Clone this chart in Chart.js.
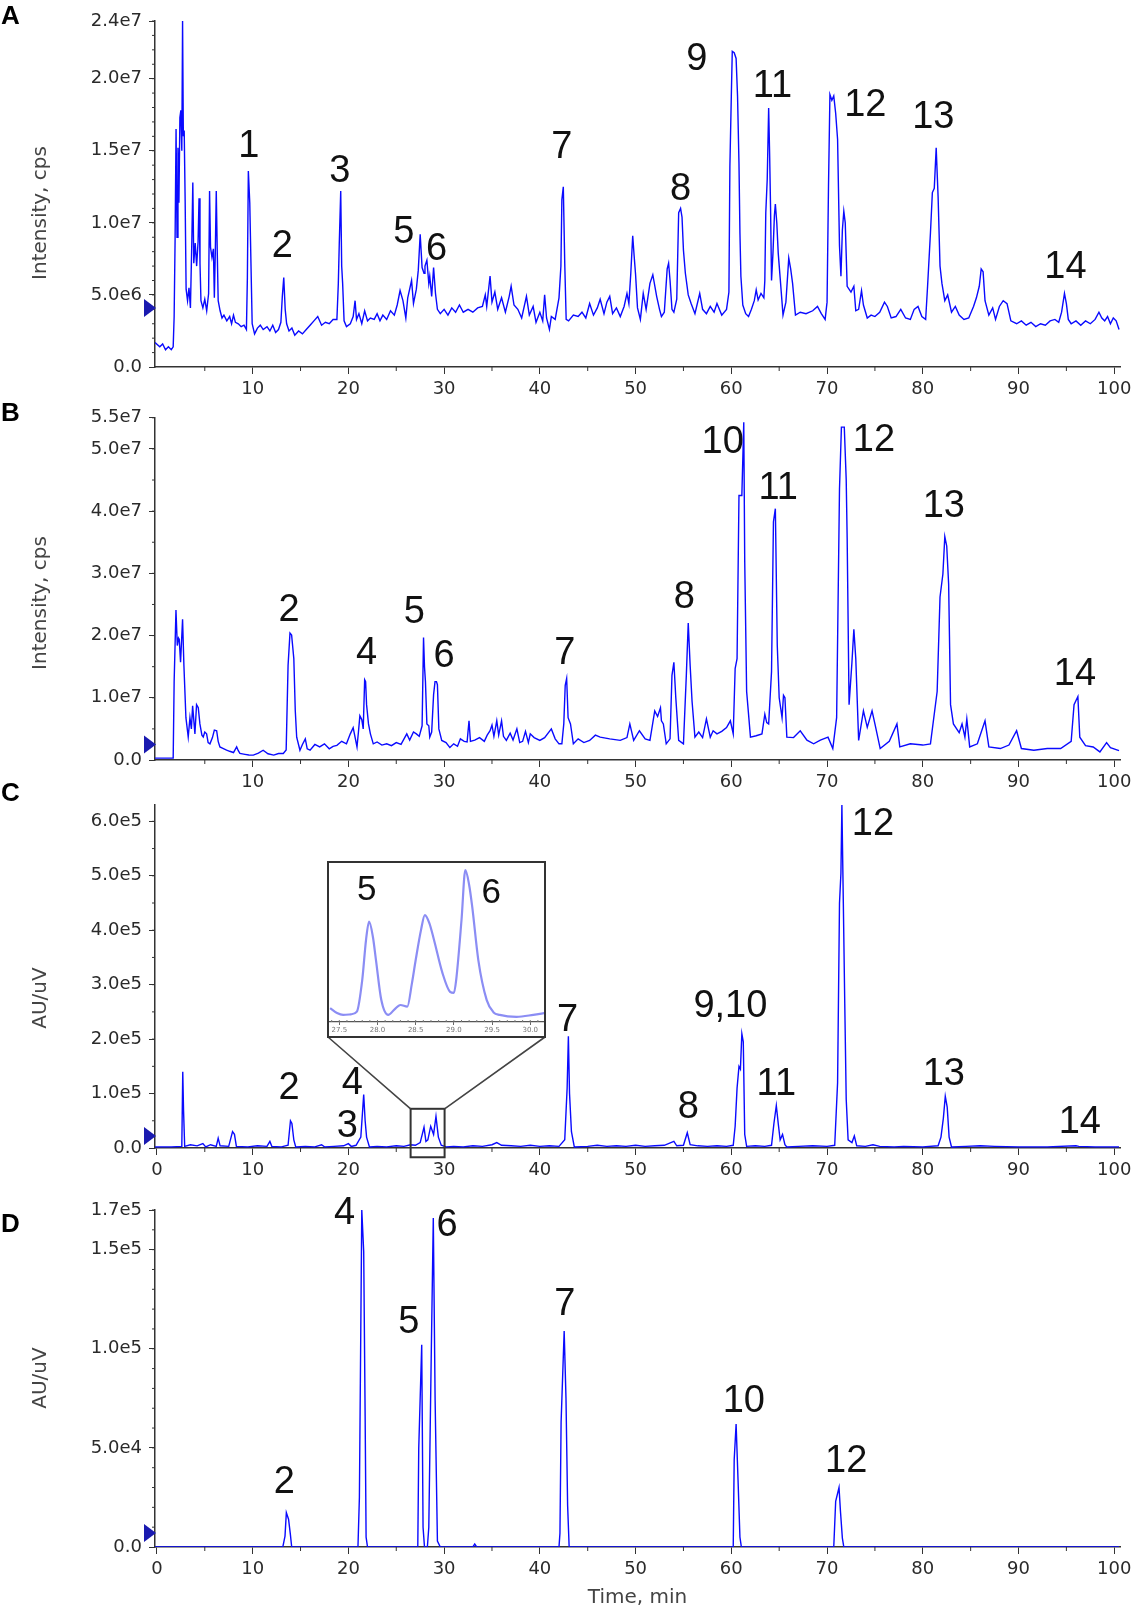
<!DOCTYPE html>
<html>
<head>
<meta charset="utf-8">
<title>Chromatograms A-D</title>
<script src="https://cdn.jsdelivr.net/npm/chart.js@4.4.1/dist/chart.umd.min.js"></script>
<style>
  body { margin: 0; background: #fff; }
  #page { position: relative; width: 1138px; height: 1612px; overflow: hidden; }
  .panel { position: absolute; left: 0; width: 1138px; }
  #insetBox { position: absolute; left: 327px; top: 861px; width: 219px; height: 177px;
              box-sizing: border-box; border: 2px solid #333; background: #fff; }
</style>
</head>
<body>
<div id="page">
  <div class="panel" style="top:0;height:400px"><canvas id="chartA"></canvas></div>
  <div class="panel" style="top:400px;height:392px"><canvas id="chartB"></canvas></div>
  <div class="panel" style="top:776px;height:404px"><canvas id="chartC"></canvas></div>
  <div class="panel" style="top:1180px;height:432px"><canvas id="chartD"></canvas></div>
  <div id="insetBox"><canvas id="chartInset"></canvas></div>
</div>
<script>
// time axis (min)
const timeTicksFull = [0, 10, 20, 30, 40, 50, 60, 70, 80, 90, 100];
const timeTicksNoZero = [10, 20, 30, 40, 50, 60, 70, 80, 90, 100];

// y ticks per panel
const yTicksA = [0, 5e6, 1e7, 1.5e7, 2e7, 2.4e7];
const yLabelsA = ["0.0", "5.0e6", "1.0e7", "1.5e7", "2.0e7", "2.4e7"];
const yTicksB = [0, 1e7, 2e7, 3e7, 4e7, 5e7, 5.5e7];
const yLabelsB = ["0.0", "1.0e7", "2.0e7", "3.0e7", "4.0e7", "5.0e7", "5.5e7"];
const yTicksC = [0, 1e5, 2e5, 3e5, 4e5, 5e5, 6e5];
const yLabelsC = ["0.0", "1.0e5", "2.0e5", "3.0e5", "4.0e5", "5.0e5", "6.0e5"];
const yTicksD = [0, 5e4, 1e5, 1.5e5, 1.7e5];
const yLabelsD = ["0.0", "5.0e4", "1.0e5", "1.5e5", "1.7e5"];

// A: TIC, intensity in 1e6 cps
const traceA = [
  [-0.2,1.7],[0.3,1.4],[0.6,1.6],[0.9,1.2],[1.2,1.4],[1.5,1.2],[1.7,1.4],
  [1.8,3.5],[1.9,8.9],[2.0,16.5],[2.1,9.0],[2.2,15.2],[2.3,11.4],[2.4,17.3],[2.5,17.8],[2.6,15.0],
  [2.68,24.0],[2.76,16.0],[2.85,16.4],[2.95,11.5],[3.05,5.4],[3.2,4.6],[3.35,5.5],[3.5,4.1],[3.65,8.8],
  [3.75,12.8],[3.85,7.2],[4.0,8.6],[4.15,7.0],[4.3,8.7],[4.4,11.7],[4.5,7.2],[4.6,4.6],[4.8,4.1],
  [5.0,4.7],[5.2,3.9],[5.4,5.1],[5.5,12.2],[5.6,8.3],[5.75,7.6],[5.9,8.2],[6.0,4.8],[6.1,8.0],[6.2,12.2],
  [6.3,8.1],[6.4,4.6],[6.6,3.9],[6.8,3.4],[7.0,3.6],[7.3,3.2],[7.6,3.5],[7.8,3.0],[8.0,3.6],[8.2,3.1],
  [8.5,3.0],[8.8,2.8],[9.1,2.9],[9.35,2.6],[9.45,6.2],[9.55,13.6],[9.7,11.4],[9.85,6.3],[9.95,3.0],
  [10.2,2.3],[10.5,2.7],[10.8,2.9],[11.1,2.6],[11.5,2.8],[11.8,2.5],[12.1,2.9],[12.4,2.4],[12.7,2.6],
  [12.95,3.1],[13.1,4.9],[13.25,6.2],[13.4,4.0],[13.55,3.0],[13.8,2.5],[14.1,2.7],[14.4,2.2],[14.8,2.5],
  [15.2,2.3],[15.6,2.6],[16.0,2.9],[16.4,3.2],[16.8,3.5],[17.2,2.9],[17.6,3.1],[18.0,3.0],[18.4,3.3],
  [18.8,3.3],[18.95,5.8],[19.05,8.6],[19.2,12.2],[19.3,7.0],[19.4,5.8],[19.55,3.2],[19.8,2.8],[20.2,3.0],
  [20.5,3.5],[20.7,4.6],[20.85,3.3],[21.1,3.7],[21.4,3.0],[21.7,3.9],[22.0,3.2],[22.3,3.4],[22.7,3.3],
  [23.0,3.7],[23.3,3.2],[23.6,3.6],[24.0,3.3],[24.4,3.9],[24.8,3.6],[25.1,4.3],[25.4,5.3],[25.7,4.6],
  [26.0,3.4],[26.2,4.8],[26.6,6.0],[26.8,4.4],[27.1,5.4],[27.3,6.7],[27.5,9.2],[27.7,6.9],[27.9,6.5],
  [28.0,7.0],[28.2,7.4],[28.4,5.8],[28.5,6.3],[28.7,4.9],[28.9,6.9],[29.1,5.1],[29.3,4.0],[29.6,3.7],
  [30.0,4.0],[30.4,3.6],[30.8,4.1],[31.2,3.8],[31.6,4.3],[32.0,3.8],[32.5,4.0],[33.0,3.8],[33.5,4.1],
  [34.0,4.2],[34.3,5.0],[34.45,4.2],[34.8,6.3],[35.0,4.5],[35.3,5.2],[35.6,4.0],[36.0,4.8],[36.4,3.8],
  [36.8,4.9],[37.0,5.6],[37.3,4.3],[37.7,4.0],[38.1,3.4],[38.6,4.9],[38.9,3.6],[39.3,4.2],[39.6,3.1],
  [40.0,3.8],[40.3,3.2],[40.5,5.0],[40.7,3.4],[41.0,2.6],[41.2,3.5],[41.6,3.3],[42.0,4.8],[42.2,7.0],
  [42.3,11.6],[42.45,12.5],[42.6,7.2],[42.75,3.3],[43.0,3.2],[43.5,3.6],[44.0,3.5],[44.4,3.8],[44.8,3.4],
  [45.2,4.4],[45.6,3.6],[46.0,4.1],[46.3,4.7],[46.7,3.7],[47.0,4.5],[47.3,4.9],[47.6,3.7],[48.0,4.1],
  [48.4,3.5],[48.8,4.2],[49.1,5.1],[49.3,4.4],[49.5,6.5],[49.7,9.1],[49.85,7.7],[50.0,6.4],[50.2,4.1],
  [50.5,3.3],[50.8,5.1],[51.1,4.0],[51.5,5.8],[51.8,6.4],[52.2,4.9],[52.5,4.0],[52.7,3.5],[53.0,3.8],
  [53.3,6.8],[53.45,7.2],[53.6,6.0],[53.8,4.0],[54.0,3.8],[54.3,4.7],[54.5,10.7],[54.7,11.0],[54.85,10.4],
  [55.0,8.1],[55.2,6.5],[55.5,5.0],[55.8,4.4],[56.2,3.7],[56.7,5.1],[57.0,4.0],[57.4,3.7],[57.8,4.2],
  [58.2,3.8],[58.5,4.4],[59.0,3.6],[59.5,4.0],[59.75,5.2],[59.85,13.9],[60.0,18.8],[60.1,21.9],[60.3,21.8],
  [60.5,21.4],[60.65,18.8],[60.8,14.1],[60.9,9.3],[61.0,6.3],[61.2,4.3],[61.5,3.7],[61.8,3.5],[62.1,4.0],
  [62.4,4.6],[62.6,5.35],[62.8,4.65],[63.1,5.1],[63.4,4.8],[63.5,6.0],[63.6,10.7],[63.75,13.0],[63.9,17.96],
  [64.0,14.8],[64.1,11.0],[64.2,6.0],[64.35,7.9],[64.5,10.5],[64.6,11.3],[64.75,10.0],[64.9,7.9],[65.1,6.2],
  [65.4,3.6],[65.7,4.5],[66.0,7.55],[66.2,6.8],[66.4,5.8],[66.7,3.6],[67.2,3.8],[67.8,3.7],[68.5,3.9],
  [69.0,4.2],[69.4,3.7],[69.8,3.3],[70.0,4.5],[70.15,12.5],[70.3,18.9],[70.5,18.5],[70.7,18.8],[70.9,17.6],
  [71.1,15.8],[71.3,8.4],[71.45,6.3],[71.6,9.5],[71.75,10.8],[71.9,10.0],[72.1,5.6],[72.5,5.2],[72.8,5.6],
  [73.0,3.9],[73.3,4.0],[73.6,5.3],[73.8,4.3],[74.2,3.4],[74.6,3.6],[75.0,3.5],[75.5,3.8],[76.0,4.5],
  [76.3,4.2],[76.7,3.4],[77.2,3.5],[77.7,4.0],[78.2,3.4],[78.7,3.3],[79.1,4.0],[79.5,4.2],[79.9,3.5],
  [80.3,3.3],[80.5,5.6],[80.8,9.3],[81.0,12.1],[81.2,12.4],[81.4,15.2],[81.6,11.8],[81.8,7.0],[82.0,5.8],
  [82.3,4.6],[82.6,5.0],[83.0,3.8],[83.4,4.2],[83.8,3.6],[84.3,3.3],[84.8,3.4],[85.3,4.2],[85.6,4.8],
  [85.9,5.6],[86.1,6.8],[86.3,6.6],[86.5,4.6],[86.9,3.6],[87.3,4.1],[87.6,3.3],[88.0,4.2],[88.4,4.6],
  [88.8,4.4],[89.2,3.2],[89.8,3.0],[90.3,3.2],[90.8,2.9],[91.3,3.1],[91.8,2.8],[92.3,3.0],[92.8,2.9],
  [93.3,3.2],[93.8,3.3],[94.2,3.1],[94.5,3.8],[94.8,5.1],[95.0,4.4],[95.2,3.3],[95.5,3.0],[96.0,3.2],
  [96.5,2.9],[97.0,3.2],[97.5,3.0],[98.0,3.3],[98.4,3.8],[98.7,3.4],[99.0,3.2],[99.3,3.5],[99.6,3.0],
  [99.9,3.4],[100.2,3.2],[100.5,2.6]
];

// B: TIC, intensity in 1e6 cps
const traceB = [
  [-0.2,0.3],[1.0,0.3],[1.7,0.3],[1.8,12.6],[1.99,24.1],[2.13,18.4],[2.25,19.6],[2.33,19.4],[2.47,15.7],
  [2.6,20.0],[2.68,22.6],[2.82,15.2],[3.03,6.8],[3.27,3.7],[3.45,6.8],[3.6,5.0],[3.73,8.7],[3.97,4.2],
  [4.14,8.9],[4.32,8.4],[4.49,5.8],[4.7,4.0],[4.84,3.7],[5.0,4.5],[5.19,4.2],[5.35,2.8],[5.54,2.6],
  [5.8,3.6],[6.0,4.8],[6.24,4.7],[6.4,3.0],[6.58,2.1],[7.0,1.8],[7.28,1.6],[7.6,1.4],[8.0,1.2],[8.33,2.1],
  [8.5,1.5],[8.67,1.05],[9.2,0.9],[9.6,0.8],[10.07,0.79],[10.6,1.1],[11.1,1.57],[11.6,1.0],[12.2,0.79],
  [12.7,1.05],[13.2,1.05],[13.5,1.6],[13.7,15.2],[13.9,20.4],[14.07,20.1],[14.3,16.3],[14.45,8.0],
  [14.6,3.67],[14.94,1.57],[15.2,2.5],[15.5,3.4],[15.7,1.8],[16.0,1.57],[16.5,2.5],[17.0,2.1],[17.5,2.6],
  [18.0,1.8],[18.4,2.2],[18.8,2.36],[19.3,3.0],[19.8,2.6],[20.2,4.2],[20.5,5.2],[20.9,2.1],[21.05,4.5],
  [21.2,7.1],[21.4,6.5],[21.55,5.0],[21.7,12.9],[21.8,12.6],[21.9,8.9],[22.1,5.8],[22.3,4.2],[22.6,2.6],
  [23.0,2.9],[23.5,2.4],[24.0,2.6],[24.5,2.3],[25.0,2.8],[25.5,2.5],[26.1,4.2],[26.4,3.2],[26.8,4.5],
  [27.1,4.2],[27.4,3.8],[27.7,5.5],[27.85,19.7],[27.95,15.0],[28.05,12.6],[28.2,5.8],[28.4,5.5],
  [28.5,3.67],[28.7,4.5],[28.9,10.5],[29.05,12.6],[29.2,12.6],[29.3,12.1],[29.45,5.0],[29.75,3.15],
  [30.2,2.8],[30.6,2.0],[31.0,2.6],[31.4,2.2],[31.7,3.4],[32.1,3.0],[32.4,2.9],[32.6,6.3],[32.75,3.0],
  [33.2,3.2],[33.7,3.6],[34.2,3.0],[34.5,4.0],[34.8,4.7],[35.0,5.6],[35.2,3.8],[35.5,6.3],[35.7,4.0],
  [36.0,6.3],[36.2,3.8],[36.5,3.15],[36.9,4.3],[37.2,3.2],[37.6,5.0],[37.9,2.8],[38.2,3.0],[38.5,4.6],
  [38.8,2.8],[39.0,4.2],[39.4,3.6],[40.0,3.15],[40.5,3.6],[41.2,5.0],[41.6,3.4],[42.0,2.6],[42.3,2.6],
  [42.5,5.8],[42.65,12.0],[42.8,13.1],[42.95,6.8],[43.2,5.8],[43.5,2.6],[44.0,3.4],[44.6,2.8],[45.2,3.15],
  [45.8,4.0],[46.3,3.67],[47.3,3.4],[48.4,3.15],[49.1,3.6],[49.4,5.8],[49.8,3.15],[50.4,4.7],[51.0,3.4],
  [51.5,3.15],[52.0,7.9],[52.3,7.0],[52.6,8.4],[52.7,6.3],[52.9,5.8],[53.2,2.6],[53.6,3.4],[53.8,13.6],
  [54.0,15.7],[54.2,10.0],[54.5,3.15],[55.0,2.6],[55.3,13.6],[55.5,22.0],[55.7,15.2],[55.9,9.4],
  [56.2,3.67],[56.6,4.5],[57.0,3.6],[57.4,6.6],[57.8,3.67],[58.1,4.7],[58.5,4.2],[59.0,4.6],[59.5,5.2],
  [59.9,6.3],[60.2,4.2],[60.4,14.7],[60.6,16.3],[60.8,42.5],[61.1,42.5],[61.3,54.3],[61.4,32.0],
  [61.6,11.0],[62.0,3.67],[62.6,3.9],[63.2,4.2],[63.5,7.35],[63.7,6.0],[63.9,5.8],[64.2,14.2],[64.4,38.3],
  [64.6,40.4],[64.8,18.4],[65.0,10.0],[65.3,6.8],[65.45,10.4],[65.6,10.0],[65.8,3.67],[66.5,3.6],
  [67.2,4.7],[67.9,3.2],[68.6,2.6],[69.3,3.2],[70.1,3.67],[70.6,1.84],[71.0,6.8],[71.3,43.6],[71.5,53.5],
  [71.8,53.5],[72.0,45.1],[72.1,35.7],[72.3,8.9],[72.6,15.7],[72.8,21.0],[73.0,16.3],[73.3,3.15],
  [73.8,7.9],[74.2,5.25],[74.7,7.9],[75.0,5.8],[75.55,1.84],[76.5,3.0],[77.3,5.8],[77.6,2.1],[78.7,2.6],
  [80.0,2.4],[80.8,2.6],[81.5,11.0],[81.8,26.2],[82.1,29.9],[82.3,35.9],[82.5,34.4],[82.7,28.3],
  [82.9,8.9],[83.2,5.8],[83.8,4.4],[84.1,5.8],[84.4,3.67],[84.6,6.6],[84.9,2.1],[85.7,2.6],[86.5,6.3],
  [86.9,2.1],[88.1,1.84],[89.0,2.4],[89.8,4.7],[90.3,1.84],[91.6,1.57],[93.0,1.84],[94.4,1.84],[95.5,3.0],
  [95.8,8.9],[96.2,10.2],[96.4,3.67],[97.0,2.3],[97.8,2.1],[98.5,1.3],[99.2,2.8],[99.6,2.0],[100.5,1.5]
];

// C: UV trace, AU in 1e5
const traceC = [
  [-0.2,0.02],[1.5,0.02],[2.6,0.03],[2.7,1.4],[2.78,0.7],[2.9,0.03],[3.5,0.06],[4.2,0.04],[4.8,0.08],
  [5.1,0.02],[5.6,0.06],[6.2,0.03],[6.4,0.18],[6.6,0.04],[7.5,0.03],[7.9,0.3],[8.1,0.25],[8.3,0.03],
  [9.5,0.02],[10.5,0.04],[11.5,0.03],[11.8,0.12],[12.0,0.03],[13.0,0.02],[13.7,0.05],[13.95,0.5],
  [14.1,0.45],[14.3,0.15],[14.5,0.02],[15.5,0.03],[16.5,0.02],[17.2,0.06],[17.5,0.02],[18.5,0.03],
  [19.5,0.04],[20.0,0.08],[20.3,0.03],[20.8,0.05],[21.3,0.2],[21.6,0.98],[21.75,0.5],[21.9,0.2],
  [22.2,0.02],[23.0,0.03],[24.0,0.02],[25.0,0.04],[25.8,0.03],[26.5,0.06],[27.0,0.05],[27.5,0.1],
  [27.9,0.38],[28.1,0.12],[28.3,0.15],[28.6,0.4],[28.9,0.25],[29.15,0.58],[29.4,0.2],[29.7,0.05],
  [30.2,0.02],[31.0,0.03],[32.0,0.02],[33.0,0.04],[34.0,0.03],[35.0,0.06],[35.5,0.1],[36.0,0.05],
  [37.0,0.04],[38.0,0.03],[39.0,0.05],[40.0,0.03],[41.0,0.04],[42.0,0.03],[42.6,0.15],[42.85,1.1],
  [42.98,2.05],[43.1,1.0],[43.3,0.3],[43.6,0.02],[45.0,0.03],[46.0,0.05],[47.0,0.03],[48.0,0.04],
  [49.0,0.03],[50.0,0.05],[51.0,0.03],[52.0,0.04],[53.0,0.05],[54.0,0.12],[54.3,0.04],[55.0,0.05],
  [55.4,0.28],[55.7,0.06],[56.5,0.04],[57.5,0.03],[58.5,0.04],[59.5,0.03],[60.2,0.05],[60.4,0.4],
  [60.6,1.1],[60.8,1.5],[60.95,1.45],[61.1,2.1],[61.25,1.95],[61.4,0.25],[61.6,0.03],[62.5,0.04],
  [63.5,0.03],[64.2,0.05],[64.45,0.45],[64.7,0.78],[64.9,0.45],[65.1,0.15],[65.35,0.25],[65.6,0.06],
  [65.8,0.02],[67.0,0.03],[68.5,0.04],[70.0,0.03],[70.8,0.05],[71.1,1.2],[71.3,4.5],[71.45,5.05],
  [71.55,6.3],[71.7,4.5],[71.85,2.65],[72.0,0.9],[72.2,0.15],[72.6,0.1],[72.85,0.22],[73.1,0.04],
  [74.0,0.03],[74.8,0.06],[75.5,0.03],[77.0,0.02],[78.0,0.03],[80.0,0.02],[81.6,0.04],[81.9,0.2],
  [82.15,0.55],[82.35,0.95],[82.55,0.75],[82.75,0.2],[83.0,0.02],[84.5,0.03],[86.0,0.04],[87.5,0.03],
  [90.0,0.02],[93.0,0.02],[96.0,0.04],[96.3,0.03],[98.0,0.02],[100.5,0.02]
];

// C inset (27.4-30.2 min), AU in 1e4
const traceInset = [
  [27.38,0.51],[27.47,0.33],[27.55,0.26],[27.65,0.28],[27.73,0.38],[27.8,1.53],[27.85,3.0],[27.89,3.66],
  [27.94,3.1],[27.98,2.26],[28.05,0.8],[28.14,0.26],[28.22,0.45],[28.3,0.62],[28.39,0.56],[28.45,1.4],
  [28.5,2.26],[28.57,3.36],[28.62,3.9],[28.68,3.6],[28.74,2.99],[28.85,1.79],[28.95,1.1],[29.0,1.06],
  [29.03,1.53],[29.1,3.72],[29.15,5.54],[29.2,5.0],[29.24,4.21],[29.32,2.26],[29.43,0.8],[29.52,0.35],
  [29.6,0.26],[29.82,0.19],[30.04,0.26],[30.2,0.33]
];
const insetTicks = [27.5, 28.0, 28.5, 29.0, 29.5, 30.0];
const insetTickLabels = ["27.5", "28.0", "28.5", "29.0", "29.5", "30.0"];

// D: UV trace of standards, AU in 1e4
const traceD = [
  [-0.2,0],[13.15,0],[13.38,0.55],[13.52,1.73],[13.75,1.4],[13.94,0.64],[14.08,0],
  [21.0,0],[21.15,2.5],[21.4,17.0],[21.6,14.9],[21.75,6.6],[21.85,0.5],[22.0,0],
  [27.25,0],[27.35,5.0],[27.66,10.2],[27.8,1.0],[27.95,0],
  [28.25,0],[28.4,1.0],[28.65,9.5],[28.87,16.6],[29.06,7.4],[29.3,0.3],[29.6,0],
  [33.0,0],[33.2,0.15],[33.4,0],
  [42.0,0],[42.1,0.7],[42.22,6.3],[42.54,10.9],[42.73,7.5],[42.9,2.1],[43.06,0],
  [60.2,0],[60.3,4.4],[60.5,6.2],[60.7,3.4],[60.9,0.5],[61.05,0],
  [70.7,0],[70.9,2.3],[71.25,3.0],[71.4,1.8],[71.6,0.45],[71.75,0],
  [100.5,0]
];

// peak numbers: name, time (min), label foot level (panel units)
const peakNamesA = ["1", "2", "3", "5", "6", "7", "8", "9", "11", "12", "13", "14"];
const peakTimesA = [9.6, 13.1, 19.1, 25.8, 29.2, 42.3, 54.7, 56.4, 64.3, 74.0, 81.1, 94.9];
const peakLevelsA = [14.6, 7.6, 12.85, 8.6, 7.4, 14.5, 11.6, 20.6, 18.7, 17.4, 16.6, 6.2];
const peakNamesB = ["2", "4", "5", "6", "7", "8", "10", "11", "12", "13", "14"];
const peakTimesB = [13.8, 21.9, 26.9, 30.0, 42.6, 55.1, 59.1, 64.9, 74.9, 82.2, 95.9];
const peakLevelsB = [22.4, 15.4, 22.0, 15.0, 15.4, 24.4, 49.3, 42.0, 49.6, 39.1, 12.1];
const peakNamesC = ["2", "3", "4", "7", "8", "9,10", "11", "12", "13", "14"];
const peakTimesC = [13.8, 19.9, 20.4, 42.9, 55.5, 59.9, 64.7, 74.8, 82.2, 96.4];
const peakLevelsC = [0.9, 0.2, 1.0, 2.15, 0.55, 2.4, 0.97, 5.74, 1.16, 0.28];
const peakNamesD = ["2", "4", "5", "6", "7", "10", "12"];
const peakTimesD = [13.3, 19.6, 26.3, 30.3, 42.6, 61.3, 72.0];
const peakLevelsD = [2.7, 16.3, 10.8, 15.7, 11.7, 6.8, 3.8];
const peakNamesInset = ["5", "6"];
const peakTimesInset = [27.86, 29.49];
const peakLevelsInset = [4.45, 4.33];

const blue = "#0a0aff";
const axisColor = "#333";
const tickFont = "DejaVu Sans";
const labelFont = '"Liberation Sans", Arial, sans-serif';

function panelDecor(p) {
    return {
        id: "panelDecor",
        afterDraw(chart) {
            const ctx = chart.ctx;
            const area = chart.chartArea;
            const xs = chart.scales.x;
            const ys = chart.scales.y;
            ctx.save();

            // minor ticks
            ctx.strokeStyle = axisColor;
            ctx.lineWidth = 1;
            ctx.beginPath();
            for (let k = 0; k * 5 <= xs.max; k++) {
                if (k % 2 === 0) continue;
                const px = xs.getPixelForValue(k * 5);
                ctx.moveTo(px, area.bottom);
                ctx.lineTo(px, area.bottom + 4);
            }
            for (let k = 1; k * p.minorY <= ys.max * 1.0001; k++) {
                const py = ys.getPixelForValue(k * p.minorY);
                ctx.moveTo(area.left - 3, py);
                ctx.lineTo(area.left, py);
            }
            ctx.stroke();

            // baseline marker
            const my = ys.getPixelForValue(p.marker * p.unit);
            ctx.fillStyle = "#1a1ab0";
            ctx.beginPath();
            ctx.moveTo(area.left - 11, my - 9);
            ctx.lineTo(area.left + 1, my);
            ctx.lineTo(area.left - 11, my + 9);
            ctx.closePath();
            ctx.fill();

            // peak numbers
            ctx.fillStyle = "#111";
            ctx.font = "38px " + labelFont;
            ctx.textAlign = "center";
            ctx.textBaseline = "alphabetic";
            p.peakNames.forEach((name, i) => {
                ctx.fillText(name, xs.getPixelForValue(p.peakTimes[i]),
                    ys.getPixelForValue(p.peakLevels[i] * p.unit));
            });

            // panel letter
            ctx.textAlign = "left";
            ctx.font = "bold 26px " + labelFont;
            ctx.fillStyle = "#000";
            ctx.fillText(p.tag, 1, p.tagBase);

            // axis titles
            ctx.fillStyle = "#444";
            ctx.font = "20px " + tickFont;
            ctx.textAlign = "center";
            ctx.textBaseline = "middle";
            ctx.save();
            ctx.translate(41, p.titleY);
            ctx.rotate(-Math.PI / 2);
            ctx.fillText(p.title, 0, 0);
            ctx.restore();
            if (p.xTitle) ctx.fillText(p.xTitle, (area.left + area.right) / 2, p.xTitleY);

            // zoom box and connectors to the inset
            if (p.zoom) {
                const z = p.zoom;
                const x0 = xs.getPixelForValue(z.t0), x1 = xs.getPixelForValue(z.t1);
                const y0 = ys.getPixelForValue(z.v1 * p.unit), y1 = ys.getPixelForValue(z.v0 * p.unit);
                ctx.strokeStyle = "#333";
                ctx.lineWidth = 2;
                ctx.strokeRect(x0, y0, x1 - x0, y1 - y0);
                const box = document.getElementById(z.inset).getBoundingClientRect();
                const cv = chart.canvas.getBoundingClientRect();
                ctx.strokeStyle = "#444";
                ctx.lineWidth = 1.6;
                ctx.beginPath();
                ctx.moveTo(box.left - cv.left + 1, box.bottom - cv.top - 1);
                ctx.lineTo(x0, y0);
                ctx.moveTo(box.right - cv.left - 1, box.bottom - cv.top - 1);
                ctx.lineTo(x1, y0);
                ctx.stroke();
            }
            ctx.restore();
        }
    };
}

function buildPanel(canvasId, p) {
    return new Chart(document.getElementById(canvasId), {
        type: "line",
        data: {
            datasets: [{
                data: p.trace.map(([t, v]) => ({ x: t, y: v * p.unit })),
                borderColor: blue,
                borderWidth: 1.4,
                pointRadius: 0,
                tension: 0
            }]
        },
        options: {
            responsive: true,
            maintainAspectRatio: false,
            animation: false,
            events: [],
            layout: { padding: { top: p.padTop, right: 18, bottom: 0, left: 0 } },
            plugins: { legend: { display: false }, tooltip: { enabled: false } },
            scales: {
                x: {
                    type: "linear",
                    min: -0.2,
                    max: 100.6,
                    afterFit: s => { s.height = p.axisH; },
                    afterBuildTicks: s => { s.ticks = p.xTicks.map(v => ({ value: v })); },
                    grid: { drawOnChartArea: false, tickLength: 7, tickColor: axisColor },
                    border: { color: axisColor, width: 1.5 },
                    ticks: {
                        autoSkip: false, maxRotation: 0, padding: 5, color: "#2a2a2a",
                        font: { family: tickFont, size: 18 }
                    }
                },
                y: {
                    min: 0,
                    max: p.yMax,
                    afterFit: s => { s.width = 155; },
                    afterBuildTicks: s => { s.ticks = p.yTicks.map(v => ({ value: v })); },
                    grid: { drawOnChartArea: false, tickLength: 6, tickColor: axisColor },
                    border: { color: axisColor, width: 1.5 },
                    ticks: {
                        autoSkip: false, padding: 7, color: "#2a2a2a",
                        font: { family: tickFont, size: 18 },
                        callback: (v, i) => p.yLabels[i]
                    }
                }
            }
        },
        plugins: [panelDecor(p)]
    });
}

buildPanel("chartA", {
    trace: traceA, unit: 1e6, yMax: 2.4e7, yTicks: yTicksA, yLabels: yLabelsA, minorY: 1e6,
    xTicks: timeTicksNoZero, padTop: 21, axisH: 33, marker: 4.1,
    peakNames: peakNamesA, peakTimes: peakTimesA, peakLevels: peakLevelsA,
    tag: "A", tagBase: 24, title: "Intensity, cps", titleY: 213
});
buildPanel("chartB", {
    trace: traceB, unit: 1e6, yMax: 5.5e7, yTicks: yTicksB, yLabels: yLabelsB, minorY: 5e6,
    xTicks: timeTicksNoZero, padTop: 13, axisH: 32, marker: 2.5,
    peakNames: peakNamesB, peakTimes: peakTimesB, peakLevels: peakLevelsB,
    tag: "B", tagBase: 21, title: "Intensity, cps", titleY: 203
});
buildPanel("chartC", {
    trace: traceC, unit: 1e5, yMax: 6.3e5, yTicks: yTicksC, yLabels: yLabelsC, minorY: 5e4,
    xTicks: timeTicksFull, padTop: 29, axisH: 32, marker: 0.22,
    peakNames: peakNamesC, peakTimes: peakTimesC, peakLevels: peakLevelsC,
    tag: "C", tagBase: 25, title: "AU/uV", titleY: 222,
    zoom: { t0: 26.5, t1: 30.05, v0: -0.17, v1: 0.72, inset: "insetBox" }
});
buildPanel("chartD", {
    trace: traceD, unit: 1e4, yMax: 1.7e5, yTicks: yTicksD, yLabels: yLabelsD, minorY: 1e4,
    xTicks: timeTicksFull, padTop: 30, axisH: 65, marker: 0.7,
    peakNames: peakNamesD, peakTimes: peakTimesD, peakLevels: peakLevelsD,
    tag: "D", tagBase: 52, title: "AU/uV", titleY: 198,
    xTitle: "Time, min", xTitleY: 418
});

// inset of panel C
new Chart(document.getElementById("chartInset"), {
    type: "line",
    data: {
        datasets: [{
            data: traceInset.map(([t, v]) => ({ x: t, y: v * 1e4 })),
            borderColor: "#8b8df4",
            borderWidth: 2.2,
            pointRadius: 0,
            tension: 0.4,
            cubicInterpolationMode: "monotone"
        }]
    },
    options: {
        responsive: true,
        maintainAspectRatio: false,
        animation: false,
        events: [],
        layout: { padding: 0 },
        plugins: { legend: { display: false }, tooltip: { enabled: false } },
        scales: {
            x: {
                type: "linear",
                min: 27.365,
                max: 30.18,
                afterFit: s => { s.height = 14; },
                afterBuildTicks: s => { s.ticks = insetTicks.map(v => ({ value: v })); },
                grid: { drawOnChartArea: false, tickLength: 3, tickColor: "#666" },
                border: { color: "#555", width: 1.2 },
                ticks: {
                    autoSkip: false, maxRotation: 0, padding: 1, color: "#777",
                    font: { family: tickFont, size: 7 },
                    callback: (v, i) => insetTickLabels[i]
                }
            },
            y: { display: false, min: 0, max: 5.8e4 }
        }
    },
    plugins: [{
        id: "insetDecor",
        afterDraw(chart) {
            const ctx = chart.ctx;
            const xs = chart.scales.x;
            const ys = chart.scales.y;
            const area = chart.chartArea;
            ctx.save();
            ctx.strokeStyle = "#777";
            ctx.lineWidth = 1;
            ctx.beginPath();
            for (let k = 274; k <= 302; k++) {
                const px = xs.getPixelForValue(k / 10);
                ctx.moveTo(px, area.bottom);
                ctx.lineTo(px, area.bottom - 2);
            }
            ctx.stroke();
            ctx.fillStyle = "#111";
            ctx.font = "35px " + labelFont;
            ctx.textAlign = "center";
            peakNamesInset.forEach((name, i) => {
                ctx.fillText(name, xs.getPixelForValue(peakTimesInset[i]),
                    ys.getPixelForValue(peakLevelsInset[i] * 1e4));
            });
            ctx.restore();
        }
    }]
});
</script>
</body>
</html>
